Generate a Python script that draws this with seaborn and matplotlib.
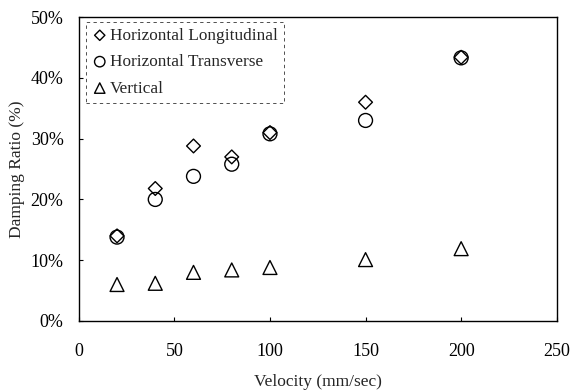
import numpy as np
import pandas as pd
import matplotlib
matplotlib.use("Agg")
import matplotlib.pyplot as plt
import seaborn as sns
from matplotlib.ticker import PercentFormatter

velocity = [20, 40, 60, 80, 100, 150, 200]
hl = [14.0, 21.8, 28.8, 27.0, 31.0, 36.0, 43.4]
ht = [13.8, 20.0, 23.8, 25.8, 30.8, 33.0, 43.3]
vert = [6.0, 6.2, 8.0, 8.4, 8.8, 10.1, 11.9]
series = ["Horizontal Longitudinal", "Horizontal Transverse", "Vertical"]

df = pd.concat([
    pd.DataFrame({"v": velocity, "d": hl, "s": series[0]}),
    pd.DataFrame({"v": velocity, "d": ht, "s": series[1]}),
    pd.DataFrame({"v": velocity, "d": vert, "s": series[2]}),
])

sns.set_style("ticks")
plt.rcParams['font.family'] = ['Liberation Serif', 'DejaVu Serif']

fig = plt.figure(figsize=(5.71, 3.90), dpi=100)
ax = fig.add_axes([0.138, 0.177, 0.837, 0.779])

markers = {series[0]: "D", series[1]: "o", series[2]: "^"}
sizes_m = {series[0]: 7, series[1]: 10, series[2]: 10}
for s in series:
    sub = df[df.s == s]
    sns.scatterplot(data=sub, x="v", y="d", marker=markers[s], s=(sizes_m[s] ** 2),
                    facecolor="none", edgecolor="black", linewidth=1.0, ax=ax, label=s)

ax.set_xlim(0, 250)
ax.set_ylim(0, 50)
ax.set_xticks([0, 50, 100, 150, 200, 250])
ax.set_yticks([0, 10, 20, 30, 40, 50])
ax.yaxis.set_major_formatter(PercentFormatter(decimals=0))
ax.tick_params(direction="in", length=3, labelsize=13, colors="black")
ax.tick_params(axis="y", pad=11)
ax.tick_params(axis="x", pad=16)
for sp in ax.spines.values():
    sp.set_color("black")
    sp.set_linewidth(1.0)
ax.set_xlabel("Velocity (mm/sec)", fontsize=12.5, labelpad=10)
ax.set_ylabel("Damping Ratio (%)", fontsize=12.5, labelpad=4)

leg = ax.legend(loc="upper left", bbox_to_anchor=(0.015, 0.985), fontsize=12.4,
                frameon=True, fancybox=False, handletextpad=0.15, borderpad=0.35,
                labelspacing=0.6, handlelength=0.9, borderaxespad=0.0, markerscale=0.75)
leg.get_frame().set_edgecolor("black")
leg.get_frame().set_linestyle((0, (4, 4)))
leg.get_frame().set_linewidth(0.6)

fig.savefig("out.png", dpi=100)
